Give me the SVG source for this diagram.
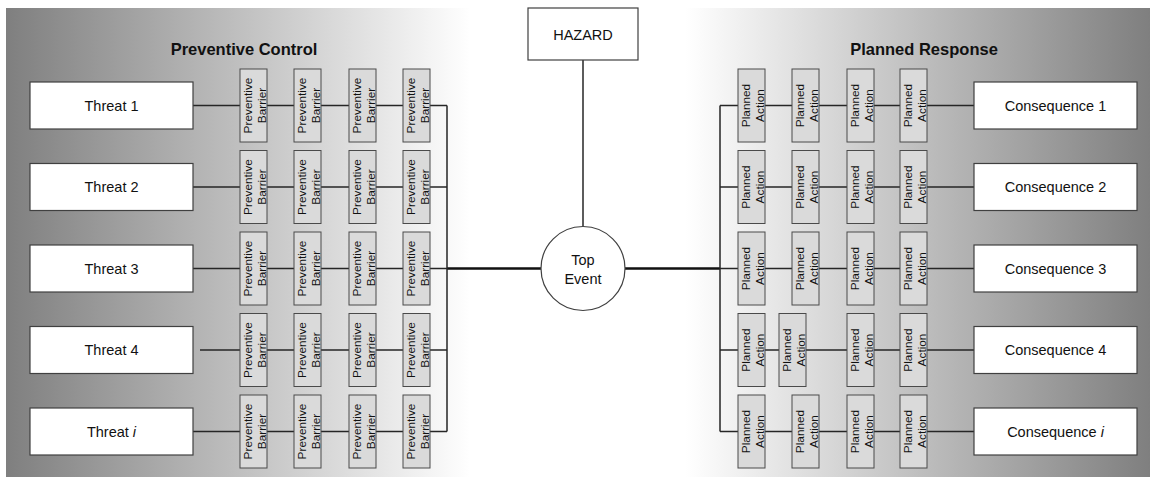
<svg xmlns="http://www.w3.org/2000/svg" width="1154" height="479" viewBox="0 0 1154 479">
<defs>
<linearGradient id="bg" x1="6" y1="0" x2="1150" y2="0" gradientUnits="userSpaceOnUse">
<stop offset="0" stop-color="#7f7f7f"/>
<stop offset="0.406" stop-color="#ffffff"/>
<stop offset="0.594" stop-color="#ffffff"/>
<stop offset="1" stop-color="#7f7f7f"/>
</linearGradient>
<style>
.box{fill:#ffffff;stroke:#404040;stroke-width:1.2}
.bar{fill:#dadada;stroke:#4a4a4a;stroke-width:1}
.lbl{font-family:"Liberation Sans",Arial,sans-serif;font-size:14.5px;fill:#111;text-anchor:middle}
.small{font-family:"Liberation Sans",Arial,sans-serif;font-size:11.8px;fill:#111;text-anchor:middle}
.head{font-family:"Liberation Sans",Arial,sans-serif;font-size:16.5px;font-weight:bold;fill:#111;text-anchor:middle}
.ln{fill:none;stroke:#262626;stroke-width:1.5}
.thick{fill:none;stroke:#111;stroke-width:2.5}
</style>
</defs>
<rect x="6" y="8" width="1144" height="469" fill="url(#bg)"/>
<text class="head" x="244" y="55">Preventive Control</text>
<text class="head" x="924" y="55">Planned Response</text>

<g id="connectors">
<path class="ln" d="M583 60V226.5"/>
<path class="thick" d="M447 268.5H541M625 268.5H720"/>
<path class="ln" d="M447 105.5V431.5M720 105.5V431.5"/>
<path class="ln" d="M193 105.5H240M267 105.5H294M321 105.5H349M376 105.5H403M430 105.5H447"/>
<path class="ln" d="M193 187H240M267 187H294M321 187H349M376 187H403M430 187H447"/>
<path class="ln" d="M193 268.5H240M267 268.5H294M321 268.5H349M376 268.5H403M430 268.5H447"/>
<path class="ln" d="M200 350H240M267 350H294M321 350H349M376 350H403M430 350H447"/>
<path class="ln" d="M193 431.5H240M267 431.5H294M321 431.5H349M376 431.5H403M430 431.5H447"/>
<path class="ln" d="M720 105.5H738M765 105.5H792M819 105.5H847M874 105.5H900M927 105.5H974"/>
<path class="ln" d="M720 187H738M765 187H792M819 187H847M874 187H900M927 187H974"/>
<path class="ln" d="M720 268.5H738M765 268.5H792M819 268.5H847M874 268.5H900M927 268.5H974"/>
<path class="ln" d="M720 350H738M765 350H779M806 350H847M874 350H900M927 350H974"/>
<path class="ln" d="M720 431.5H738M765 431.5H792M819 431.5H847M874 431.5H900M927 431.5H974"/>
</g>

<g id="hazard"><rect class="box" x="528" y="8" width="110" height="52"/><text class="lbl" x="583" y="39.5">HAZARD</text></g>
<g id="top-event"><circle cx="583" cy="268.5" r="42" fill="#fff" stroke="#404040" stroke-width="1.2"/><text class="lbl" x="583" y="265">Top</text><text class="lbl" x="583" y="284">Event</text></g>

<g id="threat-1"><rect class="box" x="30" y="82" width="163" height="47"/><text class="lbl" x="111.5" y="110.8">Threat 1</text></g>
<g id="threat-2"><rect class="box" x="30" y="163.5" width="163" height="47"/><text class="lbl" x="111.5" y="192.3">Threat 2</text></g>
<g id="threat-3"><rect class="box" x="30" y="245" width="163" height="47"/><text class="lbl" x="111.5" y="273.8">Threat 3</text></g>
<g id="threat-4"><rect class="box" x="30" y="326.5" width="163" height="47"/><text class="lbl" x="111.5" y="355.3">Threat 4</text></g>
<g id="threat-i"><rect class="box" x="30" y="408" width="163" height="47"/><text class="lbl" x="111.5" y="436.8">Threat <tspan font-style="italic">i</tspan></text></g>

<g id="consequence-1"><rect class="box" x="974" y="82" width="163" height="47"/><text class="lbl" x="1055.5" y="110.8">Consequence 1</text></g>
<g id="consequence-2"><rect class="box" x="974" y="163.5" width="163" height="47"/><text class="lbl" x="1055.5" y="192.3">Consequence 2</text></g>
<g id="consequence-3"><rect class="box" x="974" y="245" width="163" height="47"/><text class="lbl" x="1055.5" y="273.8">Consequence 3</text></g>
<g id="consequence-4"><rect class="box" x="974" y="326.5" width="163" height="47"/><text class="lbl" x="1055.5" y="355.3">Consequence 4</text></g>
<g id="consequence-i"><rect class="box" x="974" y="408" width="163" height="47"/><text class="lbl" x="1055.5" y="436.8">Consequence <tspan font-style="italic">i</tspan></text></g>

<g id="barriers">
<g id="pb-1-1"><rect class="bar" x="240" y="69" width="27" height="73"/><text class="small" transform="translate(253.5,105.5) rotate(-90)"><tspan x="0" y="-2">Preventive</tspan><tspan x="0" y="12">Barrier</tspan></text></g>
<g id="pb-1-2"><rect class="bar" x="294" y="69" width="27" height="73"/><text class="small" transform="translate(307.5,105.5) rotate(-90)"><tspan x="0" y="-2">Preventive</tspan><tspan x="0" y="12">Barrier</tspan></text></g>
<g id="pb-1-3"><rect class="bar" x="349" y="69" width="27" height="73"/><text class="small" transform="translate(362.5,105.5) rotate(-90)"><tspan x="0" y="-2">Preventive</tspan><tspan x="0" y="12">Barrier</tspan></text></g>
<g id="pb-1-4"><rect class="bar" x="403" y="69" width="27" height="73"/><text class="small" transform="translate(416.5,105.5) rotate(-90)"><tspan x="0" y="-2">Preventive</tspan><tspan x="0" y="12">Barrier</tspan></text></g>
<g id="pb-2-1"><rect class="bar" x="240" y="150.5" width="27" height="73"/><text class="small" transform="translate(253.5,187) rotate(-90)"><tspan x="0" y="-2">Preventive</tspan><tspan x="0" y="12">Barrier</tspan></text></g>
<g id="pb-2-2"><rect class="bar" x="294" y="150.5" width="27" height="73"/><text class="small" transform="translate(307.5,187) rotate(-90)"><tspan x="0" y="-2">Preventive</tspan><tspan x="0" y="12">Barrier</tspan></text></g>
<g id="pb-2-3"><rect class="bar" x="349" y="150.5" width="27" height="73"/><text class="small" transform="translate(362.5,187) rotate(-90)"><tspan x="0" y="-2">Preventive</tspan><tspan x="0" y="12">Barrier</tspan></text></g>
<g id="pb-2-4"><rect class="bar" x="403" y="150.5" width="27" height="73"/><text class="small" transform="translate(416.5,187) rotate(-90)"><tspan x="0" y="-2">Preventive</tspan><tspan x="0" y="12">Barrier</tspan></text></g>
<g id="pb-3-1"><rect class="bar" x="240" y="232" width="27" height="73"/><text class="small" transform="translate(253.5,268.5) rotate(-90)"><tspan x="0" y="-2">Preventive</tspan><tspan x="0" y="12">Barrier</tspan></text></g>
<g id="pb-3-2"><rect class="bar" x="294" y="232" width="27" height="73"/><text class="small" transform="translate(307.5,268.5) rotate(-90)"><tspan x="0" y="-2">Preventive</tspan><tspan x="0" y="12">Barrier</tspan></text></g>
<g id="pb-3-3"><rect class="bar" x="349" y="232" width="27" height="73"/><text class="small" transform="translate(362.5,268.5) rotate(-90)"><tspan x="0" y="-2">Preventive</tspan><tspan x="0" y="12">Barrier</tspan></text></g>
<g id="pb-3-4"><rect class="bar" x="403" y="232" width="27" height="73"/><text class="small" transform="translate(416.5,268.5) rotate(-90)"><tspan x="0" y="-2">Preventive</tspan><tspan x="0" y="12">Barrier</tspan></text></g>
<g id="pb-4-1"><rect class="bar" x="240" y="313.5" width="27" height="73"/><text class="small" transform="translate(253.5,350) rotate(-90)"><tspan x="0" y="-2">Preventive</tspan><tspan x="0" y="12">Barrier</tspan></text></g>
<g id="pb-4-2"><rect class="bar" x="294" y="313.5" width="27" height="73"/><text class="small" transform="translate(307.5,350) rotate(-90)"><tspan x="0" y="-2">Preventive</tspan><tspan x="0" y="12">Barrier</tspan></text></g>
<g id="pb-4-3"><rect class="bar" x="349" y="313.5" width="27" height="73"/><text class="small" transform="translate(362.5,350) rotate(-90)"><tspan x="0" y="-2">Preventive</tspan><tspan x="0" y="12">Barrier</tspan></text></g>
<g id="pb-4-4"><rect class="bar" x="403" y="313.5" width="27" height="73"/><text class="small" transform="translate(416.5,350) rotate(-90)"><tspan x="0" y="-2">Preventive</tspan><tspan x="0" y="12">Barrier</tspan></text></g>
<g id="pb-5-1"><rect class="bar" x="240" y="395" width="27" height="73"/><text class="small" transform="translate(253.5,431.5) rotate(-90)"><tspan x="0" y="-2">Preventive</tspan><tspan x="0" y="12">Barrier</tspan></text></g>
<g id="pb-5-2"><rect class="bar" x="294" y="395" width="27" height="73"/><text class="small" transform="translate(307.5,431.5) rotate(-90)"><tspan x="0" y="-2">Preventive</tspan><tspan x="0" y="12">Barrier</tspan></text></g>
<g id="pb-5-3"><rect class="bar" x="349" y="395" width="27" height="73"/><text class="small" transform="translate(362.5,431.5) rotate(-90)"><tspan x="0" y="-2">Preventive</tspan><tspan x="0" y="12">Barrier</tspan></text></g>
<g id="pb-5-4"><rect class="bar" x="403" y="395" width="27" height="73"/><text class="small" transform="translate(416.5,431.5) rotate(-90)"><tspan x="0" y="-2">Preventive</tspan><tspan x="0" y="12">Barrier</tspan></text></g>
</g>

<g id="actions">
<g id="pa-1-1"><rect class="bar" x="738" y="69" width="27" height="73"/><text class="small" transform="translate(751.5,105.5) rotate(-90)"><tspan x="0" y="-2">Planned</tspan><tspan x="0" y="12">Action</tspan></text></g>
<g id="pa-1-2"><rect class="bar" x="792" y="69" width="27" height="73"/><text class="small" transform="translate(805.5,105.5) rotate(-90)"><tspan x="0" y="-2">Planned</tspan><tspan x="0" y="12">Action</tspan></text></g>
<g id="pa-1-3"><rect class="bar" x="847" y="69" width="27" height="73"/><text class="small" transform="translate(860.5,105.5) rotate(-90)"><tspan x="0" y="-2">Planned</tspan><tspan x="0" y="12">Action</tspan></text></g>
<g id="pa-1-4"><rect class="bar" x="900" y="69" width="27" height="73"/><text class="small" transform="translate(913.5,105.5) rotate(-90)"><tspan x="0" y="-2">Planned</tspan><tspan x="0" y="12">Action</tspan></text></g>
<g id="pa-2-1"><rect class="bar" x="738" y="150.5" width="27" height="73"/><text class="small" transform="translate(751.5,187) rotate(-90)"><tspan x="0" y="-2">Planned</tspan><tspan x="0" y="12">Action</tspan></text></g>
<g id="pa-2-2"><rect class="bar" x="792" y="150.5" width="27" height="73"/><text class="small" transform="translate(805.5,187) rotate(-90)"><tspan x="0" y="-2">Planned</tspan><tspan x="0" y="12">Action</tspan></text></g>
<g id="pa-2-3"><rect class="bar" x="847" y="150.5" width="27" height="73"/><text class="small" transform="translate(860.5,187) rotate(-90)"><tspan x="0" y="-2">Planned</tspan><tspan x="0" y="12">Action</tspan></text></g>
<g id="pa-2-4"><rect class="bar" x="900" y="150.5" width="27" height="73"/><text class="small" transform="translate(913.5,187) rotate(-90)"><tspan x="0" y="-2">Planned</tspan><tspan x="0" y="12">Action</tspan></text></g>
<g id="pa-3-1"><rect class="bar" x="738" y="232" width="27" height="73"/><text class="small" transform="translate(751.5,268.5) rotate(-90)"><tspan x="0" y="-2">Planned</tspan><tspan x="0" y="12">Action</tspan></text></g>
<g id="pa-3-2"><rect class="bar" x="792" y="232" width="27" height="73"/><text class="small" transform="translate(805.5,268.5) rotate(-90)"><tspan x="0" y="-2">Planned</tspan><tspan x="0" y="12">Action</tspan></text></g>
<g id="pa-3-3"><rect class="bar" x="847" y="232" width="27" height="73"/><text class="small" transform="translate(860.5,268.5) rotate(-90)"><tspan x="0" y="-2">Planned</tspan><tspan x="0" y="12">Action</tspan></text></g>
<g id="pa-3-4"><rect class="bar" x="900" y="232" width="27" height="73"/><text class="small" transform="translate(913.5,268.5) rotate(-90)"><tspan x="0" y="-2">Planned</tspan><tspan x="0" y="12">Action</tspan></text></g>
<g id="pa-4-1"><rect class="bar" x="738" y="313.5" width="27" height="73"/><text class="small" transform="translate(751.5,350) rotate(-90)"><tspan x="0" y="-2">Planned</tspan><tspan x="0" y="12">Action</tspan></text></g>
<g id="pa-4-2"><rect class="bar" x="779" y="313.5" width="27" height="73"/><text class="small" transform="translate(792.5,350) rotate(-90)"><tspan x="0" y="-2">Planned</tspan><tspan x="0" y="12">Action</tspan></text></g>
<g id="pa-4-3"><rect class="bar" x="847" y="313.5" width="27" height="73"/><text class="small" transform="translate(860.5,350) rotate(-90)"><tspan x="0" y="-2">Planned</tspan><tspan x="0" y="12">Action</tspan></text></g>
<g id="pa-4-4"><rect class="bar" x="900" y="313.5" width="27" height="73"/><text class="small" transform="translate(913.5,350) rotate(-90)"><tspan x="0" y="-2">Planned</tspan><tspan x="0" y="12">Action</tspan></text></g>
<g id="pa-5-1"><rect class="bar" x="738" y="395" width="27" height="73"/><text class="small" transform="translate(751.5,431.5) rotate(-90)"><tspan x="0" y="-2">Planned</tspan><tspan x="0" y="12">Action</tspan></text></g>
<g id="pa-5-2"><rect class="bar" x="792" y="395" width="27" height="73"/><text class="small" transform="translate(805.5,431.5) rotate(-90)"><tspan x="0" y="-2">Planned</tspan><tspan x="0" y="12">Action</tspan></text></g>
<g id="pa-5-3"><rect class="bar" x="847" y="395" width="27" height="73"/><text class="small" transform="translate(860.5,431.5) rotate(-90)"><tspan x="0" y="-2">Planned</tspan><tspan x="0" y="12">Action</tspan></text></g>
<g id="pa-5-4"><rect class="bar" x="900" y="395" width="27" height="73"/><text class="small" transform="translate(913.5,431.5) rotate(-90)"><tspan x="0" y="-2">Planned</tspan><tspan x="0" y="12">Action</tspan></text></g>
</g>
</svg>
